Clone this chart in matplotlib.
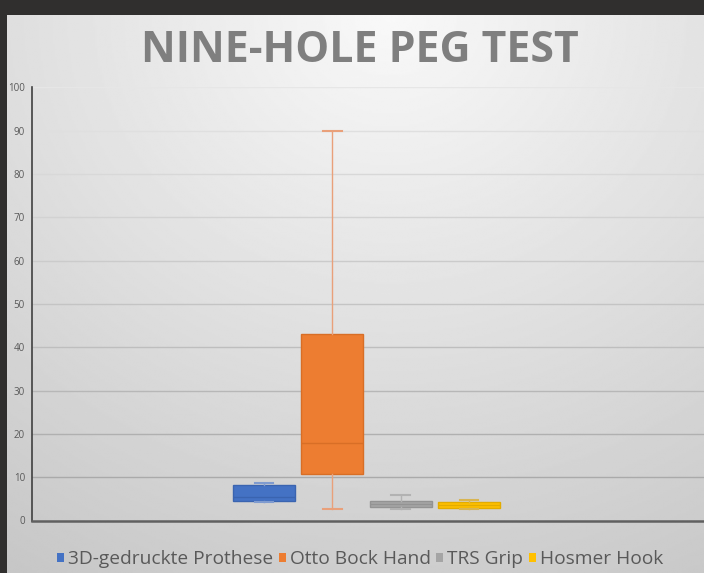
import numpy as np
import matplotlib
matplotlib.use('Agg')
import matplotlib.pyplot as plt
from matplotlib.patches import Patch


# data
series = ['3D-gedruckte Prothese', 'Otto Bock Hand', 'TRS Grip', 'Hosmer Hook']
whislo = [4.2, 2.7, 2.7, 2.7]
q1 = [4.5, 10.8, 3.2, 3.0]
med = [5.5, 18.0, 3.9, 3.5]
q3 = [8.3, 43.0, 4.6, 4.3]
whishi = [8.7, 90.0, 5.8, 4.8]
yticks = [0, 10, 20, 30, 40, 50, 60, 70, 80, 90, 100]

colors = ['#4472C4', '#ED7D31', '#A5A5A5', '#FFC000']
edges = ['#3A64B0', '#D86E26', '#939393', '#E3AC00']
whisk = ['#7F9BCF', '#E9A07A', '#B2B2B2', '#D8B552']

W, H = 704, 573
fig = plt.figure(figsize=(W / 100, H / 100), dpi=100, facecolor='#302F2E')

# gradient panel
bg = fig.add_axes([7 / W, 0, 1 - 7 / W, (H - 15) / H], zorder=-5)
u = np.linspace(0, 1, 400)
v = np.linspace(0, 1, 300)
U, V = np.meshgrid(u, v)
d = np.sqrt(((U - 0.55) / 0.5) ** 2 * 0.35 + (V * 1.05) ** 2)
grad = np.clip(0.975 - 0.16 * d, 0, 1)
bg.imshow(grad, cmap='gray', vmin=0, vmax=1, aspect='auto',
          extent=[0, 1, 0, 1], origin='upper', interpolation='bilinear')
bg.set_axis_off()

# plot area
left, right = 32, W
y0_px, y100_px = 520.5, 87.3
ax = fig.add_axes([left / W, (H - y0_px) / H, (right - left) / W,
                   (y0_px - y100_px) / H])
ax.patch.set_alpha(0)

pos0, step = 264, 68.33
xmin = (left - pos0) / step
xmax = (right - pos0) / step
ax.set_xlim(xmin, xmax)
ax.set_ylim(0, 100)

# gridlines, darker towards the bottom like the original
for t in yticks[1:]:
    g = 0.64 + 0.26 * (t / 100)
    ax.axhline(t, color=(g, g, g), lw=1.0, zorder=0)

for i in range(len(series)):
    stats = [{'whislo': whislo[i], 'q1': q1[i], 'med': med[i],
              'q3': q3[i], 'whishi': whishi[i], 'fliers': []}]
    ax.bxp(stats, positions=[i], widths=0.907, capwidths=0.27,
           patch_artist=True, showfliers=False, manage_ticks=False,
           boxprops=dict(facecolor=colors[i], edgecolor=edges[i], lw=1),
           medianprops=dict(color=edges[i], lw=1),
           whiskerprops=dict(color=whisk[i], lw=1),
           capprops=dict(color=whisk[i], lw=1.5))

ax.set_yticks(yticks)
ax.set_xticks([])
ax.tick_params(axis='y', length=0, pad=5, labelsize=7, labelcolor='#595959')
for lab in ax.get_yticklabels():
    lab.set_family('Open Sans')
ax.spines['top'].set_visible(False)
ax.spines['right'].set_visible(False)
ax.spines['left'].set_color('#404040')
ax.spines['left'].set_linewidth(1.2)
ax.spines['bottom'].set_color('#606060')
ax.spines['bottom'].set_linewidth(1.8)

fig.text(360 / W, 1 - 51 / H, 'NINE-HOLE PEG TEST', ha='center', va='center',
         fontsize=30.8, fontweight='bold', color='#7F7F7F', family='Open Sans')

handles = [Patch(facecolor=c, edgecolor='none') for c in colors]
fig.legend(handles, series, loc='center', bbox_to_anchor=(360 / W, 1 - 559 / H),
           ncol=4, frameon=False, handlelength=0.36, handleheight=0.36,
           handletextpad=0.2, columnspacing=0.3,
           prop={'family': 'Open Sans', 'size': 13.8}, labelcolor='#595959')

fig.savefig('out.png', dpi=100, facecolor=fig.get_facecolor())
